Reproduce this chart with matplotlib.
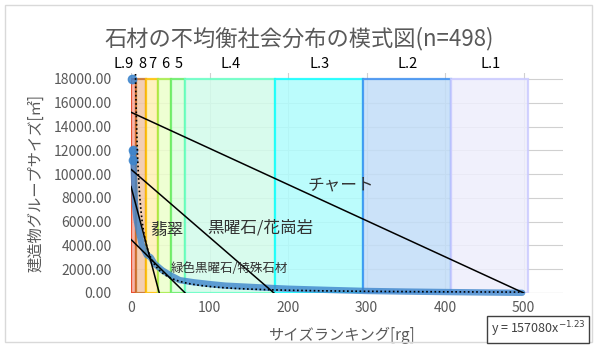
import numpy as np
import matplotlib.pyplot as plt
from matplotlib.patches import Rectangle

plt.rcParams['font.family'] = ['Noto Sans CJK JP', 'DejaVu Sans']

# data
rank = [1, 2, 3, 4, 5, 7, 10, 14, 20, 25, 30, 40, 50, 62, 80, 100, 120, 150,
        180, 200, 250, 300, 350, 400, 450, 498]
size = [18000, 12000, 11200, 9500, 7500, 6200, 5200, 4000, 3200, 3000, 2450,
        1900, 1500, 1080, 900, 750, 620, 520, 420, 360, 260, 170, 120, 80, 45, 15]

# trendline shown on the chart: y = 157080 x^-1.23
trend_a, trend_b = 157080, -1.23

band_edges = [0, 7, 19, 34, 51, 69, 183, 295, 408, 505]
band_names = ["L.9", "8", "7", "6", "5", "L.4", "L.3", "L.2", "L.1"]
band_fill = ["#f6aa9c", "#f0c6a6", "#fff0b4", "#ecffcc", "#dcffdc",
             "#d2fbea", "#b0fcfc", "#c2ddf8", "#eeeefc"]
band_edge = ["#e8401c", "#c8702a", "#ffc000", "#a6ec48", "#66ec66",
             "#66ffc4", "#10ffff", "#3d8ff0", "#cacaff"]

# triangles (start value on y axis, end rank on x axis) and their labels
tri_names = ["チャート", "黒曜石/花崗岩", "翡翠", "緑色黒曜石/特殊石材"]
tri_y0 = [15200, 10400, 8950, 4500]
tri_x1 = [500, 182, 36, 69]

fig = plt.figure(figsize=(6.0, 3.49), dpi=100)
ax = fig.add_axes([131/600, 1-293/349, 432/600, 220/349])

for i in range(len(band_names)):
    x0, x1 = band_edges[i], band_edges[i+1]
    ax.add_patch(Rectangle((x0, 0), x1 - x0, 18000, facecolor=band_fill[i],
                           edgecolor=band_edge[i], lw=1.6, alpha=0.85, zorder=1))
    xm = (x0 + x1) / 2
    if i == 0:
        ax.text(x1 - 4, 18650, band_names[i], ha='right', va='bottom', fontsize=10.5)
    else:
        ax.text(xm + 1, 18650, band_names[i], ha='center', va='bottom', fontsize=10.5)

ax.set_xlim(0, 550)
ax.set_ylim(0, 18500)
ax.set_xticks(range(0, 501, 100))
ax.set_yticks(range(0, 18001, 2000))
ax.set_yticklabels([f"{v:.2f}" for v in range(0, 18001, 2000)])
ax.grid(True, color='#d0d0d0', lw=0.8, zorder=0)
ax.set_axisbelow(True)
for s in ax.spines.values():
    s.set_visible(False)
ax.axhline(0, color='#d0d0d0', lw=0.8, zorder=0.5)
ax.tick_params(length=0, labelsize=10, colors='#595959')
ax.tick_params(axis='y', pad=14)
ax.tick_params(axis='x', pad=6)

# scatter of the building groups
ax.plot(rank[1:], size[1:], color='#3d85cc', lw=4.6, alpha=0.8,
        solid_capstyle='round', solid_joinstyle='round', zorder=3, clip_on=False)
ax.plot(rank[:3], size[:3], 'o', color='#3d85cc', ms=6, alpha=0.85, zorder=3, clip_on=False)

# power trendline
xt = np.linspace(1, 498, 600)
ax.plot(xt, trend_a * xt ** trend_b, color='black', ls=(0, (1, 1.5)), lw=1.2, zorder=4)

for y0, x1 in zip(tri_y0, tri_x1):
    ax.plot([0, x1], [y0, 0], color='black', lw=1.1, zorder=5)

ax.text(267, 9080, tri_names[0], ha='center', va='center', fontsize=12, color='#333333', zorder=6)
ax.text(165, 5470, tri_names[1], ha='center', va='center', fontsize=12, color='#333333', zorder=6)
ax.text(45, 5220, tri_names[2], ha='center', va='center', fontsize=12, color='#333333', zorder=6)
ax.text(125, 2020, tri_names[3], ha='center', va='center', fontsize=9, color='#333333', zorder=6)

ax.set_xlabel("サイズランキング[rg]", fontsize=11, color='#595959')
ax.set_ylabel("建造物グループサイズ[㎡]", fontsize=11, color='#595959')
ax.xaxis.set_label_coords(0.488, -0.155)
ax.yaxis.set_label_coords(-0.20, 0.5)

fig.text(0.498, 0.889, "石材の不均衡社会分布の模式図(n=498)", ha='center', va='center',
         fontsize=16, color='#595959')

fig.text(0.897, 0.057, r"y = 157080x$^{-1.23}$", ha='center', va='center', fontsize=9,
         color='#404040',
         bbox=dict(boxstyle='square,pad=0.3', fc='white', ec='#404040', lw=1))

fig.patches.append(Rectangle((5/600, 1-342/349), 587/600, 337/349, transform=fig.transFigure,
                             fill=False, ec='#d9d9d9', lw=1))

fig.savefig("out.png", dpi=100)
